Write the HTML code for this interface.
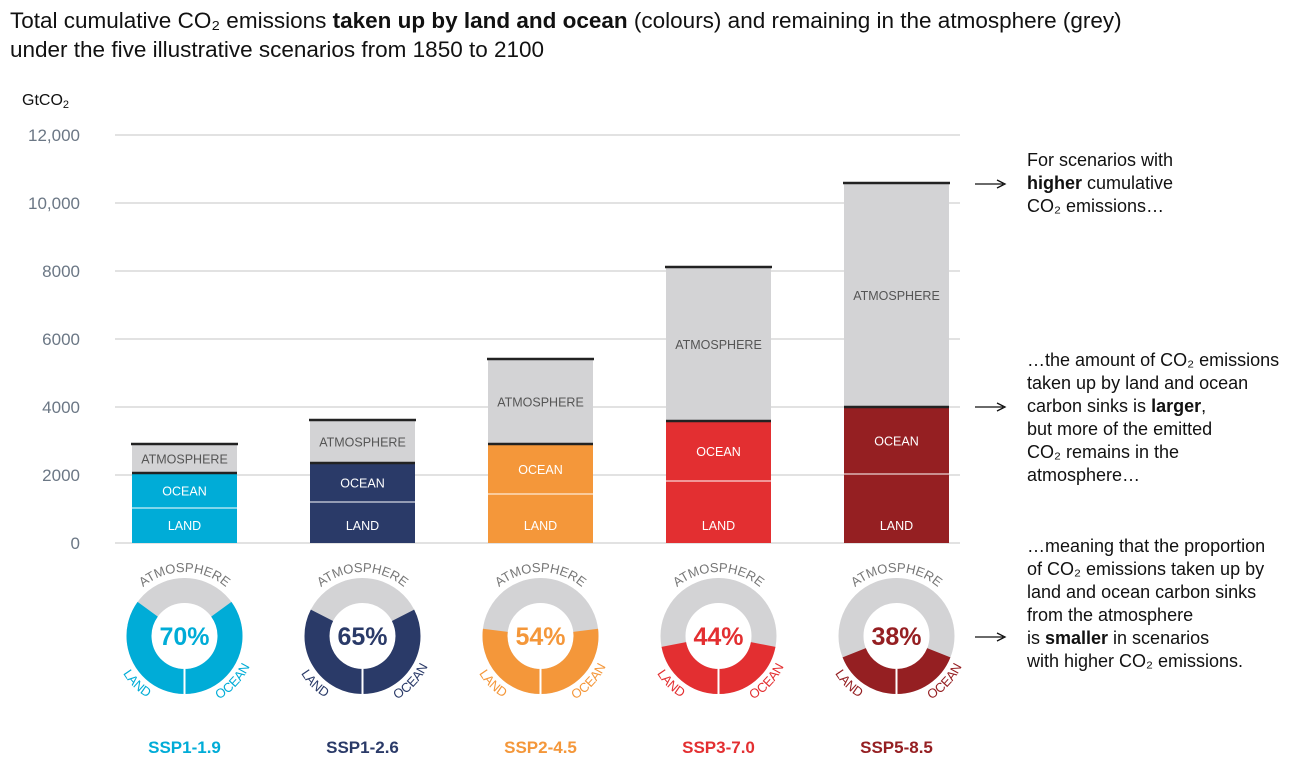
<!DOCTYPE html>
<html><head><meta charset="utf-8">
<style>
html,body{margin:0;padding:0;background:#fff;}
body{width:1310px;height:766px;overflow:hidden;font-family:"Liberation Sans",sans-serif;position:relative;}
.title{position:absolute;left:10px;top:6px;font-size:22.5px;line-height:29px;color:#111;}
.note{position:absolute;left:1027px;font-size:18px;line-height:23px;color:#111;}
</style></head><body>
<div class="title">Total cumulative CO₂ emissions <b>taken up by land and ocean</b> (colours) and remaining in the atmosphere (grey)<br>under the five illustrative scenarios from 1850 to 2100</div>
<div class="note" style="top:149px">For scenarios with<br><b>higher</b> cumulative<br>CO₂ emissions…</div>
<div class="note" style="top:349px">…the amount of CO₂ emissions<br>taken up by land and ocean<br>carbon sinks is <b>larger</b>,<br>but more of the emitted<br>CO₂ remains in the<br>atmosphere…</div>
<div class="note" style="top:535px">…meaning that the proportion<br>of CO₂ emissions taken up by<br>land and ocean carbon sinks<br>from the atmosphere<br>is <b>smaller</b> in scenarios<br>with higher CO₂ emissions.</div>
<svg id="chart" width="1310" height="766" style="position:absolute;left:0;top:0"></svg>
<script>
const scenarios=["SSP1-1.9","SSP1-2.6","SSP2-4.5","SSP3-7.0","SSP5-8.5"];
const landValues=[1030,1206,1441,1824,2029];
const sinkTotals=[2059,2353,2912,3588,4000];
const totalValues=[2912,3618,5412,8118,10588];
const percents=[70,65,54,44,38];
const colors=["#00acd7","#2a3a68","#f4973a","#e32f31","#951f22"];
const yTicks=[0,2000,4000,6000,8000,10000,12000];
const yTickLabels=["0","2000","4000","6000","8000","10,000","12,000"];

const NS="http://www.w3.org/2000/svg";
const svg=document.getElementById('chart');
function y(v){return 543-v*408/12000;}
function bx(i){return 132+i*178;}
const BW=105;
function mk(tag,attrs,parent){const e=document.createElementNS(NS,tag);for(const k in attrs)e.setAttribute(k,attrs[k]);(parent||svg).appendChild(e);return e;}

const defs=mk('defs',{});
const lbl=mk('text',{x:22,y:105,'font-size':16,fill:'#111'});


lbl.innerHTML='GtCO<tspan font-size="11" dy="3">2</tspan>';
yTicks.forEach((t,i)=>{
  const g=mk('line',{x1:115,x2:960,y1:y(t),y2:y(t),stroke:'#d0d0d0','stroke-width':1.2});
  
  
  const tx=mk('text',{x:80,y:y(t)+6,'text-anchor':'end','font-size':17,fill:'#6b7785'});
  
  
  tx.textContent=yTickLabels[i];
});
scenarios.forEach((s,i)=>{
  const x=bx(i),c=colors[i];
  const atm=mk('rect',{x:x,y:y(totalValues[i]),width:BW,height:y(sinkTotals[i])-y(totalValues[i]),fill:'#d3d3d5'});
  
  
  const oc=mk('rect',{x:x,y:y(sinkTotals[i]),width:BW,height:y(landValues[i])-y(sinkTotals[i]),fill:c});
  
  
  const ld=mk('rect',{x:x,y:y(landValues[i]),width:BW,height:y(0)-y(landValues[i]),fill:c});
  
  
  mk('line',{x1:x,x2:x+BW,y1:y(landValues[i]),y2:y(landValues[i]),stroke:'#fff','stroke-width':1});
  mk('line',{x1:x,x2:x+BW,y1:y(sinkTotals[i]),y2:y(sinkTotals[i]),stroke:'#222','stroke-width':2.5});
  mk('line',{x1:x-1,x2:x+BW+1,y1:y(totalValues[i]),y2:y(totalValues[i]),stroke:'#222','stroke-width':2.5});
  const cx=x+BW/2;
  const t1=mk('text',{x:cx,y:(y(totalValues[i])+y(sinkTotals[i]))/2+5,'text-anchor':'middle','font-size':12.5,fill:'#555'});t1.textContent='ATMOSPHERE';
  const t2=mk('text',{x:cx,y:(y(sinkTotals[i])+y(landValues[i]))/2+5,'text-anchor':'middle','font-size':12.5,fill:'#fff'});t2.textContent='OCEAN';
  const t3=mk('text',{x:cx,y:y(0)-13,'text-anchor':'middle','font-size':12.5,fill:'#fff'});t3.textContent='LAND';
  const dy=636,R=58,r=33,rm=(R+r)/2;
  const dg=mk('g',{});
  
  
  mk('circle',{cx:cx,cy:dy,r:rm,fill:'none',stroke:'#d3d3d5','stroke-width':R-r},dg);
  const frac=percents[i]/100, half=Math.PI*frac;
  const a0=Math.PI/2-half,a1=Math.PI/2+half;
  const p=(a,rr)=>[cx+rr*Math.cos(a),dy+rr*Math.sin(a)];
  const large=frac>0.5?1:0;
  const [ax,ay]=p(a0,rm),[bx2,by2]=p(a1,rm);
  mk('path',{d:`M${ax},${ay} A${rm},${rm} 0 ${large} 1 ${bx2},${by2}`,fill:'none',stroke:c,'stroke-width':R-r},dg);
  mk('line',{x1:cx,x2:cx,y1:dy+r,y2:dy+R+1,stroke:'#fff','stroke-width':2},dg);
  const pt=mk('text',{x:cx,y:dy+9,'text-anchor':'middle','font-size':25,'font-weight':'bold',fill:c},dg);pt.textContent=percents[i]+'%';
  mk('path',{id:'top'+i,d:`M${cx-64},${dy} A64,64 0 0 1 ${cx+64},${dy}`},defs);
  const tt=mk('text',{'font-size':13,fill:'#777'},dg);
  tt.innerHTML=`<textPath href="#top${i}" startOffset="50%" text-anchor="middle">ATMOSPHERE</textPath>`;
  mk('path',{id:'bot'+i,d:`M${cx-72},${dy} A72,72 0 0 0 ${cx+72},${dy}`},defs);
  const bt=mk('text',{'font-size':13,fill:c},dg);
  bt.innerHTML=`<textPath href="#bot${i}" startOffset="25%" text-anchor="middle">LAND</textPath>`;
  const ot=mk('text',{'font-size':13,fill:c},dg);
  ot.innerHTML=`<textPath href="#bot${i}" startOffset="76%" text-anchor="middle">OCEAN</textPath>`;
  const sl=mk('text',{x:cx,y:753,'text-anchor':'middle','font-size':17,'font-weight':'bold',fill:c});
  
  
  sl.textContent=s;
});
[[184],[407],[637]].forEach(([ay])=>{
  const a=mk('line',{x1:975,x2:1003,y1:ay,y2:ay,stroke:'#111','stroke-width':1.3});
  
  
  mk('path',{d:`M997,${ay-4} L1005,${ay} L997,${ay+4}`,fill:'none',stroke:'#111','stroke-width':1.3});
});
</script>
</body></html>
